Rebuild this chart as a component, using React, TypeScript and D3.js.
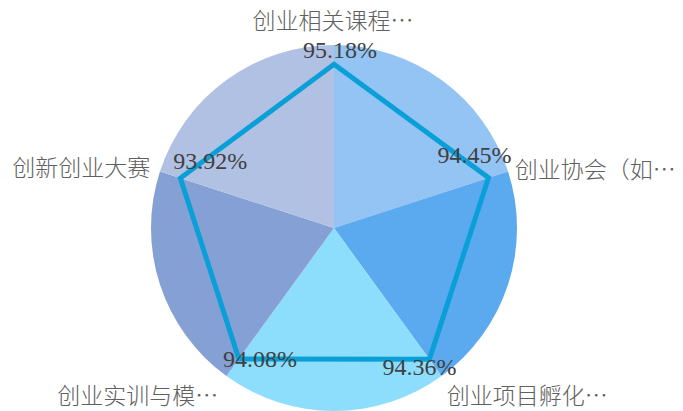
import React from "react";
import * as d3 from "d3";

const categories = ["创业相关课程…", "创业协会（如…", "创业项目孵化…", "创业实训与模…", "创新创业大赛"];
const values = [95.18, 94.45, 94.36, 94.08, 93.92];
const valueLabels = ["95.18%", "94.45%", "94.36%", "94.08%", "93.92%"];
const wedgeColors = ["#93c4f4", "#5ba9ef", "#8ddefc", "#85a0d5", "#b1c1e3"];

// styling: label placement tweaks
const catAnchor = ["middle", "start", "start", "end", "end"];
const catNudge = [[-1, -9], [0, 9], [1, 22], [-4, 22], [-3, 7]];
const valNudge = [[6, -6], [-14, -15], [-10, 16], [21, 8], [30, -9]];

export default function App() {
  const W = 683, H = 411;
  const cx = 334, cy = 228;
  const R = 183;
  const n = categories.length;
  const angle = d3.scaleLinear().domain([0, n]).range([0, 2 * Math.PI]);
  const r = d3.scaleLinear().domain([0, 100]).range([0, 172]);

  const arc = d3.arc<any>();
  const pt = (i: number, rad: number) => {
    const a = angle(i);
    return [cx + rad * Math.sin(a), cy - rad * Math.cos(a)];
  };

  const line = d3
    .lineRadial<number>()
    .angle((_, i) => angle(i))
    .radius((d) => r(d))
    .curve(d3.curveLinearClosed);

  return (
    <svg width={W} height={H} style={{ position: "absolute", left: 0, top: 0 }}>
      <rect width={W} height={H} fill="#ffffff" />
      <g transform={`translate(${cx},${cy})`}>
        {wedgeColors.map((c, i) => (
          <path
            key={i}
            d={arc({ innerRadius: 0, outerRadius: R, startAngle: angle(i), endAngle: angle(i + 1) }) as string}
            fill={c}
          />
        ))}
        <path d={line(values) as string} fill="none" stroke="#0b9fd8" strokeWidth={5} strokeLinejoin="miter" />
      </g>
      {categories.map((c, i) => {
        const [x, y] = pt(i, 190);
        return (
          <text
            key={c}
            x={x + catNudge[i][0]}
            y={y + catNudge[i][1]}
            textAnchor={catAnchor[i] as any}
            style={{ fontFamily: "'Noto Sans CJK SC', sans-serif", fontSize: "23px", fontWeight: 300 }}
            fill="#606060"
          >
            {c}
          </text>
        );
      })}
      {values.map((v, i) => {
        const [x, y] = pt(i, r(v));
        return (
          <text
            key={i}
            x={x + valNudge[i][0]}
            y={y + valNudge[i][1]}
            textAnchor="middle"
            style={{ fontFamily: "'Liberation Serif', 'Times New Roman', serif", fontSize: "24px" }}
            fill="#404040"
          >
            {valueLabels[i]}
          </text>
        );
      })}
    </svg>
  );
}
